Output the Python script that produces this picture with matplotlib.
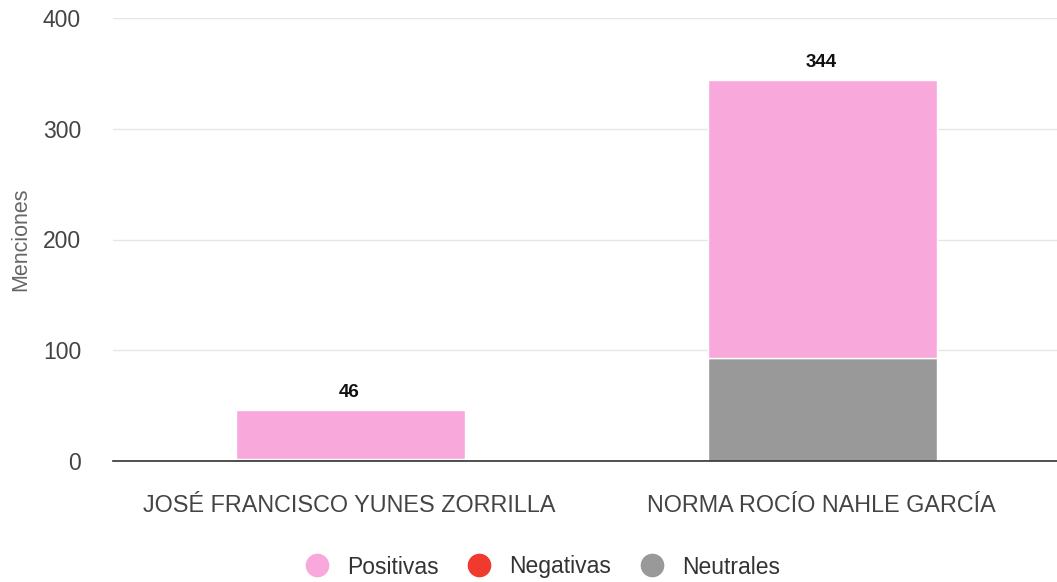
import matplotlib.pyplot as plt
from matplotlib.lines import Line2D

plt.rcParams['font.family'] = ['Liberation Sans', 'DejaVu Sans']

candidatos = ['JOSÉ FRANCISCO YUNES ZORRILLA', 'NORMA ROCÍO NAHLE GARCÍA']
neutrales = [2, 93]
negativas = [0, 0]
positivas = [44, 251]
totales = [46, 344]

c_pos = '#f9a8dc'
c_neg = '#f03a2e'
c_neu = '#999999'

fig = plt.figure(figsize=(10.57, 5.82), dpi=100)
ax = fig.add_axes([113 / 1057, 1 - 461 / 582, 944 / 1057, 443 / 582])

x = range(len(candidatos))
w = 0.485
ax.bar([i + 0.004 for i in x], neutrales, width=w, color=c_neu, edgecolor='white', linewidth=1, zorder=3)
ax.bar([i + 0.004 for i in x], negativas, width=w, bottom=neutrales, color=c_neg, linewidth=0, zorder=3)
base = [a + b for a, b in zip(neutrales, negativas)]
ax.bar([i + 0.004 for i in x], positivas, width=w, bottom=base, color=c_pos, edgecolor='white', linewidth=1, zorder=3)

for xi, t in zip(x, totales):
    ax.text(xi, t + 8, str(t), ha='center', va='bottom', fontsize=13.5,
            fontweight='bold', color='#111111')

ax.set_xlim(-0.5, 1.5)
ax.set_ylim(0, 400)
ax.set_yticks([0, 100, 200, 300, 400])
ax.grid(axis='y', color='#e6e6e6', linewidth=1, zorder=0)
ax.set_axisbelow(True)
for s in ['top', 'right', 'left']:
    ax.spines[s].set_visible(False)
ax.spines['bottom'].set_color('#333333')
ax.spines['bottom'].set_linewidth(1.2)
ax.spines['bottom'].set_zorder(4)
ax.tick_params(axis='both', length=0, colors='#444444')
ax.tick_params(axis='y', pad=23, labelsize=16.5)
ax.tick_params(axis='x', pad=24)
ax.set_xticks(list(x))
ax.set_xticklabels(candidatos, fontsize=16.8)
ax.set_ylabel('Menciones', fontsize=15.5, color='#666666', labelpad=8)

handles = [Line2D([], [], marker='o', linestyle='', markersize=16, color=c)
           for c in [c_pos, c_neg, c_neu]]
fig.legend(handles, ['Positivas', 'Negativas', 'Neutrales'], loc='center',
           bbox_to_anchor=(0.508, 1 - 567 / 582), ncol=3, frameon=False,
           fontsize=16.5, handletextpad=0.3, columnspacing=0.78, labelcolor='#333333')

fig.savefig('out.png', dpi=100)
